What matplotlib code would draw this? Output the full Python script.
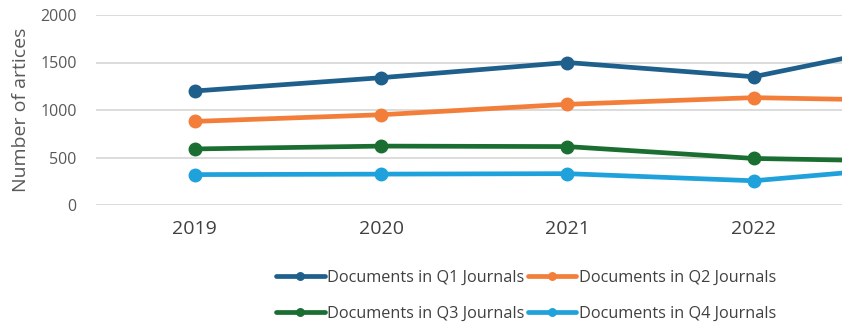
import matplotlib
matplotlib.use("Agg")
import matplotlib.pyplot as plt

years = ["2019", "2020", "2021", "2022", "2023"]
q1 = [1200, 1340, 1500, 1350, 1750]
q2 = [880, 950, 1060, 1130, 1095]
q3 = [590, 620, 615, 490, 455]
q4 = [320, 325, 330, 255, 425]
series_labels = ["Documents in Q1 Journals", "Documents in Q2 Journals",
                 "Documents in Q3 Journals", "Documents in Q4 Journals"]
colors = ["#1F5F8B", "#F27E3A", "#1B6E31", "#1FA2DB"]
yticks = [0, 500, 1000, 1500, 2000]

plt.rcParams['font.family'] = ['Open Sans', 'DejaVu Sans']
W, H = 842, 331
fig = plt.figure(figsize=(W / 100, H / 100), dpi=100)
unit = 186.3
left_px = 96
x0, x1 = -0.53, len(years) - 1 + 0.53
ax = fig.add_axes([left_px / W, 1 - 205 / H, (x1 - x0) * unit / W, 190 / H])

x = list(range(len(years)))
handles = []
for vals, lab, c in zip([q1, q2, q3, q4], series_labels, colors):
    ln, = ax.plot(x, vals, color=c, lw=3.4, marker='o', ms=9, label=lab,
                  solid_capstyle='round')
    handles.append(ln)

ax.set_xlim(x0, x1)
ax.set_ylim(0, 2000)
ax.set_yticks(yticks)
ax.set_yticklabels([str(v) for v in yticks], fontsize=11.5, color='#595959')
# only the first four categories are visible inside the picture
ax.set_xticks(x[:4])
ax.set_xticklabels(years[:4], fontsize=14, color='#404040')
ax.tick_params(axis='both', length=0)
ax.tick_params(axis='y', pad=14)
ax.tick_params(axis='x', pad=11)
ax.grid(axis='y', color='#D9D9D9', lw=1.3)
ax.set_axisbelow(True)
for s in ax.spines.values():
    s.set_visible(False)
ax.set_ylabel("Number of artices", fontsize=14, color='#595959', labelpad=7)

order = [0, 2, 1, 3]
fig.legend([handles[i] for i in order], [series_labels[i] for i in order],
           loc='center', bbox_to_anchor=(526 / W, 1 - 296 / H), ncol=2,
           frameon=False, fontsize=11.7, handlelength=3.0, columnspacing=0.2,
           handletextpad=0.15, labelspacing=1.25, labelcolor='#404040',
           markerscale=0.6)

fig.savefig("out.png", dpi=100)
